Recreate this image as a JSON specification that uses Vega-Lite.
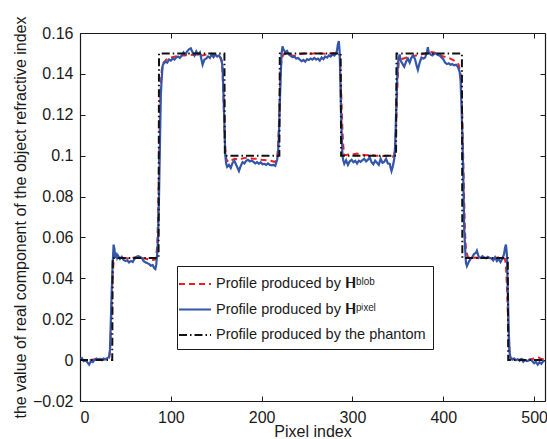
{
  "$schema": "https://vega.github.io/schema/vega-lite/v6.json",
  "width": 465,
  "height": 368,
  "autosize": "none",
  "padding": {"left": 80, "top": 33, "right": 2, "bottom": 38},
  "background": "white",
  "config": {
    "view": {"stroke": null},
    "font": "Liberation Sans",
    "axis": {"grid": false, "domainColor": "#1a1a1a", "tickColor": "#1a1a1a", "labelColor": "#1a1a1a", "titleColor": "#1a1a1a", "labelFontSize": 16, "titleFontSize": 16, "titleFontWeight": "normal", "domainWidth": 1.2, "tickWidth": 1},
    "legend": {"orient": "none", "legendX": 97, "legendY": 233, "strokeColor": "#1a1a1a", "fillColor": "white", "padding": 7, "symbolType": "M-1.6,0H1.6", "symbolSize": 400, "symbolStrokeWidth": 2, "labelOffset": 10, "labelFontSize": 14.5, "labelColor": "#1a1a1a", "labelLimit": 0, "rowPadding": 7.5, "title": null}
  },
  "data": {"values": [
    {"s":"phantom","x":0,"y":0},{"s":"phantom","x":35.5,"y":0},{"s":"phantom","x":36,"y":0.05},{"s":"phantom","x":86.5,"y":0.05},{"s":"phantom","x":87,"y":0.15},{"s":"phantom","x":159,"y":0.15},{"s":"phantom","x":159.5,"y":0.1},{"s":"phantom","x":219.5,"y":0.1},{"s":"phantom","x":220,"y":0.15},{"s":"phantom","x":287,"y":0.15},{"s":"phantom","x":287.5,"y":0.1},{"s":"phantom","x":348,"y":0.1},{"s":"phantom","x":348.5,"y":0.15},{"s":"phantom","x":420.5,"y":0.15},{"s":"phantom","x":421,"y":0.05},{"s":"phantom","x":471,"y":0.05},{"s":"phantom","x":471.5,"y":0},{"s":"phantom","x":511,"y":0},
    {"s":"blob","x":0,"y":0.0005},{"s":"blob","x":5,"y":-0.0003},{"s":"blob","x":10,"y":0.0},{"s":"blob","x":15,"y":0.0003},{"s":"blob","x":20,"y":0.0},{"s":"blob","x":25,"y":0.0004},{"s":"blob","x":30,"y":0.0003},{"s":"blob","x":32,"y":0.001},{"s":"blob","x":33,"y":0.004},{"s":"blob","x":34,"y":0.014},{"s":"blob","x":35,"y":0.029},{"s":"blob","x":36,"y":0.042},{"s":"blob","x":37,"y":0.048},{"s":"blob","x":38,"y":0.0505},{"s":"blob","x":40,"y":0.0502},{"s":"blob","x":45,"y":0.0498},{"s":"blob","x":50,"y":0.05},{"s":"blob","x":55,"y":0.0495},{"s":"blob","x":60,"y":0.0502},{"s":"blob","x":65,"y":0.0505},{"s":"blob","x":70,"y":0.0498},{"s":"blob","x":75,"y":0.0493},{"s":"blob","x":80,"y":0.049},{"s":"blob","x":83,"y":0.0492},{"s":"blob","x":84,"y":0.051},{"s":"blob","x":85,"y":0.056},{"s":"blob","x":86,"y":0.07},{"s":"blob","x":87,"y":0.095},{"s":"blob","x":88,"y":0.12},{"s":"blob","x":89,"y":0.135},{"s":"blob","x":90,"y":0.142},{"s":"blob","x":92,"y":0.1455},{"s":"blob","x":95,"y":0.147},{"s":"blob","x":100,"y":0.148},{"s":"blob","x":105,"y":0.1485},{"s":"blob","x":110,"y":0.149},{"s":"blob","x":115,"y":0.149},{"s":"blob","x":120,"y":0.1495},{"s":"blob","x":125,"y":0.1492},{"s":"blob","x":130,"y":0.1495},{"s":"blob","x":135,"y":0.149},{"s":"blob","x":140,"y":0.1495},{"s":"blob","x":145,"y":0.1498},{"s":"blob","x":150,"y":0.149},{"s":"blob","x":154,"y":0.1485},{"s":"blob","x":156,"y":0.146},{"s":"blob","x":157,"y":0.14},{"s":"blob","x":158,"y":0.128},{"s":"blob","x":159,"y":0.113},{"s":"blob","x":160,"y":0.103},{"s":"blob","x":161,"y":0.0985},{"s":"blob","x":163,"y":0.097},{"s":"blob","x":166,"y":0.0975},{"s":"blob","x":170,"y":0.0985},{"s":"blob","x":175,"y":0.098},{"s":"blob","x":180,"y":0.0988},{"s":"blob","x":185,"y":0.099},{"s":"blob","x":190,"y":0.0985},{"s":"blob","x":195,"y":0.0985},{"s":"blob","x":200,"y":0.098},{"s":"blob","x":205,"y":0.0978},{"s":"blob","x":210,"y":0.0975},{"s":"blob","x":214,"y":0.097},{"s":"blob","x":216,"y":0.0975},{"s":"blob","x":217,"y":0.099},{"s":"blob","x":218,"y":0.104},{"s":"blob","x":219,"y":0.115},{"s":"blob","x":220,"y":0.13},{"s":"blob","x":221,"y":0.142},{"s":"blob","x":222,"y":0.1475},{"s":"blob","x":224,"y":0.1495},{"s":"blob","x":228,"y":0.15},{"s":"blob","x":232,"y":0.1492},{"s":"blob","x":236,"y":0.1488},{"s":"blob","x":240,"y":0.1495},{"s":"blob","x":245,"y":0.1498},{"s":"blob","x":250,"y":0.15},{"s":"blob","x":255,"y":0.1498},{"s":"blob","x":260,"y":0.1502},{"s":"blob","x":265,"y":0.15},{"s":"blob","x":270,"y":0.1498},{"s":"blob","x":275,"y":0.15},{"s":"blob","x":280,"y":0.1502},{"s":"blob","x":284,"y":0.1503},{"s":"blob","x":286,"y":0.149},{"s":"blob","x":287,"y":0.14},{"s":"blob","x":288,"y":0.125},{"s":"blob","x":289,"y":0.112},{"s":"blob","x":290,"y":0.104},{"s":"blob","x":291,"y":0.1005},{"s":"blob","x":293,"y":0.1002},{"s":"blob","x":296,"y":0.1008},{"s":"blob","x":300,"y":0.1005},{"s":"blob","x":305,"y":0.101},{"s":"blob","x":310,"y":0.1005},{"s":"blob","x":315,"y":0.1002},{"s":"blob","x":320,"y":0.1005},{"s":"blob","x":325,"y":0.1},{"s":"blob","x":330,"y":0.1},{"s":"blob","x":335,"y":0.0998},{"s":"blob","x":340,"y":0.1},{"s":"blob","x":344,"y":0.0995},{"s":"blob","x":346,"y":0.1},{"s":"blob","x":347,"y":0.104},{"s":"blob","x":348,"y":0.114},{"s":"blob","x":349,"y":0.128},{"s":"blob","x":350,"y":0.14},{"s":"blob","x":351,"y":0.1455},{"s":"blob","x":353,"y":0.147},{"s":"blob","x":356,"y":0.1475},{"s":"blob","x":360,"y":0.148},{"s":"blob","x":365,"y":0.1485},{"s":"blob","x":370,"y":0.149},{"s":"blob","x":375,"y":0.1495},{"s":"blob","x":380,"y":0.15},{"s":"blob","x":385,"y":0.1508},{"s":"blob","x":390,"y":0.1505},{"s":"blob","x":395,"y":0.1495},{"s":"blob","x":400,"y":0.1485},{"s":"blob","x":405,"y":0.148},{"s":"blob","x":410,"y":0.147},{"s":"blob","x":414,"y":0.146},{"s":"blob","x":417,"y":0.1445},{"s":"blob","x":419,"y":0.14},{"s":"blob","x":420,"y":0.132},{"s":"blob","x":421,"y":0.118},{"s":"blob","x":422,"y":0.098},{"s":"blob","x":423,"y":0.078},{"s":"blob","x":424,"y":0.062},{"s":"blob","x":425,"y":0.054},{"s":"blob","x":427,"y":0.0505},{"s":"blob","x":430,"y":0.05},{"s":"blob","x":435,"y":0.0502},{"s":"blob","x":440,"y":0.0498},{"s":"blob","x":445,"y":0.05},{"s":"blob","x":450,"y":0.0502},{"s":"blob","x":455,"y":0.0498},{"s":"blob","x":460,"y":0.0502},{"s":"blob","x":465,"y":0.05},{"s":"blob","x":468,"y":0.0495},{"s":"blob","x":469,"y":0.046},{"s":"blob","x":470,"y":0.037},{"s":"blob","x":471,"y":0.024},{"s":"blob","x":472,"y":0.011},{"s":"blob","x":473,"y":0.004},{"s":"blob","x":474,"y":0.001},{"s":"blob","x":478,"y":0.0004},{"s":"blob","x":482,"y":0.0},{"s":"blob","x":486,"y":0.0005},{"s":"blob","x":490,"y":0.0},{"s":"blob","x":495,"y":0.0003},{"s":"blob","x":500,"y":0.0008},{"s":"blob","x":505,"y":0.0012},{"s":"blob","x":508,"y":0.0005},{"s":"blob","x":511,"y":0.0004},
    {"s":"pixel","x":0,"y":0.0005},{"s":"pixel","x":2,"y":0.001},{"s":"pixel","x":4,"y":-0.0005},{"s":"pixel","x":6,"y":0.0},{"s":"pixel","x":8,"y":-0.001},{"s":"pixel","x":10,"y":-0.0022},{"s":"pixel","x":12,"y":-0.0005},{"s":"pixel","x":14,"y":-0.001},{"s":"pixel","x":16,"y":0.0002},{"s":"pixel","x":18,"y":0.0008},{"s":"pixel","x":20,"y":0.0003},{"s":"pixel","x":22,"y":0.0006},{"s":"pixel","x":24,"y":0.0},{"s":"pixel","x":26,"y":0.0008},{"s":"pixel","x":28,"y":0.0004},{"s":"pixel","x":30,"y":0.001},{"s":"pixel","x":32,"y":0.0015},{"s":"pixel","x":33,"y":0.005},{"s":"pixel","x":34,"y":0.02},{"s":"pixel","x":35,"y":0.035},{"s":"pixel","x":36,"y":0.047},{"s":"pixel","x":37,"y":0.0565},{"s":"pixel","x":38,"y":0.054},{"s":"pixel","x":39,"y":0.05},{"s":"pixel","x":40,"y":0.0525},{"s":"pixel","x":41,"y":0.05},{"s":"pixel","x":42,"y":0.051},{"s":"pixel","x":44,"y":0.0495},{"s":"pixel","x":46,"y":0.0505},{"s":"pixel","x":48,"y":0.049},{"s":"pixel","x":50,"y":0.0485},{"s":"pixel","x":52,"y":0.0488},{"s":"pixel","x":54,"y":0.0478},{"s":"pixel","x":56,"y":0.0485},{"s":"pixel","x":58,"y":0.048},{"s":"pixel","x":60,"y":0.0495},{"s":"pixel","x":62,"y":0.0505},{"s":"pixel","x":64,"y":0.0508},{"s":"pixel","x":66,"y":0.0505},{"s":"pixel","x":68,"y":0.05},{"s":"pixel","x":70,"y":0.0485},{"s":"pixel","x":72,"y":0.0478},{"s":"pixel","x":74,"y":0.0475},{"s":"pixel","x":76,"y":0.047},{"s":"pixel","x":78,"y":0.0462},{"s":"pixel","x":80,"y":0.0465},{"s":"pixel","x":82,"y":0.0448},{"s":"pixel","x":83,"y":0.0445},{"s":"pixel","x":84,"y":0.0468},{"s":"pixel","x":85,"y":0.052},{"s":"pixel","x":86,"y":0.06},{"s":"pixel","x":87,"y":0.08},{"s":"pixel","x":88,"y":0.105},{"s":"pixel","x":89,"y":0.13},{"s":"pixel","x":90,"y":0.138},{"s":"pixel","x":91,"y":0.144},{"s":"pixel","x":92,"y":0.145},{"s":"pixel","x":94,"y":0.146},{"s":"pixel","x":96,"y":0.1455},{"s":"pixel","x":98,"y":0.147},{"s":"pixel","x":100,"y":0.1465},{"s":"pixel","x":102,"y":0.1475},{"s":"pixel","x":104,"y":0.147},{"s":"pixel","x":106,"y":0.148},{"s":"pixel","x":108,"y":0.1485},{"s":"pixel","x":110,"y":0.1478},{"s":"pixel","x":112,"y":0.149},{"s":"pixel","x":114,"y":0.1505},{"s":"pixel","x":116,"y":0.1495},{"s":"pixel","x":118,"y":0.151},{"s":"pixel","x":120,"y":0.152},{"s":"pixel","x":122,"y":0.1525},{"s":"pixel","x":124,"y":0.1505},{"s":"pixel","x":126,"y":0.149},{"s":"pixel","x":128,"y":0.151},{"s":"pixel","x":130,"y":0.1495},{"s":"pixel","x":132,"y":0.1505},{"s":"pixel","x":134,"y":0.1465},{"s":"pixel","x":135,"y":0.1445},{"s":"pixel","x":137,"y":0.147},{"s":"pixel","x":139,"y":0.1475},{"s":"pixel","x":141,"y":0.1485},{"s":"pixel","x":143,"y":0.1478},{"s":"pixel","x":145,"y":0.1495},{"s":"pixel","x":147,"y":0.1482},{"s":"pixel","x":149,"y":0.1495},{"s":"pixel","x":151,"y":0.1485},{"s":"pixel","x":153,"y":0.149},{"s":"pixel","x":155,"y":0.1478},{"s":"pixel","x":156,"y":0.1465},{"s":"pixel","x":157,"y":0.143},{"s":"pixel","x":158,"y":0.13},{"s":"pixel","x":159,"y":0.115},{"s":"pixel","x":160,"y":0.1},{"s":"pixel","x":161,"y":0.096},{"s":"pixel","x":162,"y":0.0945},{"s":"pixel","x":164,"y":0.0955},{"s":"pixel","x":166,"y":0.094},{"s":"pixel","x":168,"y":0.0965},{"s":"pixel","x":170,"y":0.0975},{"s":"pixel","x":172,"y":0.0955},{"s":"pixel","x":174,"y":0.0935},{"s":"pixel","x":175,"y":0.0925},{"s":"pixel","x":177,"y":0.095},{"s":"pixel","x":179,"y":0.0968},{"s":"pixel","x":181,"y":0.0962},{"s":"pixel","x":183,"y":0.0975},{"s":"pixel","x":185,"y":0.098},{"s":"pixel","x":187,"y":0.0972},{"s":"pixel","x":189,"y":0.0975},{"s":"pixel","x":191,"y":0.097},{"s":"pixel","x":193,"y":0.0962},{"s":"pixel","x":195,"y":0.0968},{"s":"pixel","x":197,"y":0.096},{"s":"pixel","x":199,"y":0.0968},{"s":"pixel","x":201,"y":0.0958},{"s":"pixel","x":203,"y":0.096},{"s":"pixel","x":205,"y":0.0955},{"s":"pixel","x":207,"y":0.0962},{"s":"pixel","x":209,"y":0.0955},{"s":"pixel","x":211,"y":0.0953},{"s":"pixel","x":213,"y":0.0955},{"s":"pixel","x":215,"y":0.095},{"s":"pixel","x":216,"y":0.0965},{"s":"pixel","x":217,"y":0.098},{"s":"pixel","x":218,"y":0.1005},{"s":"pixel","x":219,"y":0.11},{"s":"pixel","x":220,"y":0.125},{"s":"pixel","x":221,"y":0.14},{"s":"pixel","x":222,"y":0.15},{"s":"pixel","x":223,"y":0.1535},{"s":"pixel","x":224,"y":0.152},{"s":"pixel","x":226,"y":0.1505},{"s":"pixel","x":228,"y":0.1512},{"s":"pixel","x":230,"y":0.1495},{"s":"pixel","x":232,"y":0.1488},{"s":"pixel","x":234,"y":0.1482},{"s":"pixel","x":236,"y":0.1485},{"s":"pixel","x":238,"y":0.1475},{"s":"pixel","x":240,"y":0.1478},{"s":"pixel","x":242,"y":0.147},{"s":"pixel","x":244,"y":0.1462},{"s":"pixel","x":246,"y":0.1468},{"s":"pixel","x":248,"y":0.146},{"s":"pixel","x":250,"y":0.1472},{"s":"pixel","x":252,"y":0.1468},{"s":"pixel","x":254,"y":0.1475},{"s":"pixel","x":256,"y":0.147},{"s":"pixel","x":258,"y":0.1478},{"s":"pixel","x":260,"y":0.147},{"s":"pixel","x":262,"y":0.1475},{"s":"pixel","x":264,"y":0.1465},{"s":"pixel","x":266,"y":0.148},{"s":"pixel","x":268,"y":0.1472},{"s":"pixel","x":270,"y":0.1485},{"s":"pixel","x":272,"y":0.148},{"s":"pixel","x":274,"y":0.149},{"s":"pixel","x":276,"y":0.1485},{"s":"pixel","x":278,"y":0.1495},{"s":"pixel","x":280,"y":0.149},{"s":"pixel","x":282,"y":0.15},{"s":"pixel","x":283,"y":0.1515},{"s":"pixel","x":284,"y":0.1545},{"s":"pixel","x":285,"y":0.156},{"s":"pixel","x":286,"y":0.15},{"s":"pixel","x":287,"y":0.13},{"s":"pixel","x":288,"y":0.112},{"s":"pixel","x":289,"y":0.1},{"s":"pixel","x":290,"y":0.0975},{"s":"pixel","x":291,"y":0.096},{"s":"pixel","x":293,"y":0.0978},{"s":"pixel","x":295,"y":0.0955},{"s":"pixel","x":297,"y":0.0972},{"s":"pixel","x":299,"y":0.098},{"s":"pixel","x":301,"y":0.0968},{"s":"pixel","x":303,"y":0.0975},{"s":"pixel","x":305,"y":0.0962},{"s":"pixel","x":307,"y":0.0975},{"s":"pixel","x":309,"y":0.097},{"s":"pixel","x":311,"y":0.0978},{"s":"pixel","x":313,"y":0.0985},{"s":"pixel","x":315,"y":0.0972},{"s":"pixel","x":317,"y":0.098},{"s":"pixel","x":319,"y":0.0992},{"s":"pixel","x":321,"y":0.0968},{"s":"pixel","x":323,"y":0.0958},{"s":"pixel","x":325,"y":0.0975},{"s":"pixel","x":327,"y":0.0965},{"s":"pixel","x":329,"y":0.0955},{"s":"pixel","x":331,"y":0.0985},{"s":"pixel","x":333,"y":0.0965},{"s":"pixel","x":335,"y":0.097},{"s":"pixel","x":337,"y":0.0985},{"s":"pixel","x":339,"y":0.0962},{"s":"pixel","x":341,"y":0.096},{"s":"pixel","x":343,"y":0.0925},{"s":"pixel","x":344,"y":0.094},{"s":"pixel","x":345,"y":0.096},{"s":"pixel","x":346,"y":0.0985},{"s":"pixel","x":347,"y":0.105},{"s":"pixel","x":348,"y":0.12},{"s":"pixel","x":349,"y":0.135},{"s":"pixel","x":350,"y":0.145},{"s":"pixel","x":351,"y":0.148},{"s":"pixel","x":352,"y":0.1495},{"s":"pixel","x":353,"y":0.1465},{"s":"pixel","x":355,"y":0.145},{"s":"pixel","x":357,"y":0.1435},{"s":"pixel","x":359,"y":0.146},{"s":"pixel","x":361,"y":0.1475},{"s":"pixel","x":363,"y":0.1455},{"s":"pixel","x":365,"y":0.148},{"s":"pixel","x":367,"y":0.149},{"s":"pixel","x":369,"y":0.147},{"s":"pixel","x":371,"y":0.1435},{"s":"pixel","x":372,"y":0.142},{"s":"pixel","x":374,"y":0.1455},{"s":"pixel","x":376,"y":0.148},{"s":"pixel","x":378,"y":0.1475},{"s":"pixel","x":380,"y":0.148},{"s":"pixel","x":382,"y":0.1505},{"s":"pixel","x":383,"y":0.153},{"s":"pixel","x":384,"y":0.1505},{"s":"pixel","x":386,"y":0.1495},{"s":"pixel","x":388,"y":0.149},{"s":"pixel","x":390,"y":0.1498},{"s":"pixel","x":392,"y":0.15},{"s":"pixel","x":394,"y":0.1492},{"s":"pixel","x":396,"y":0.149},{"s":"pixel","x":398,"y":0.148},{"s":"pixel","x":400,"y":0.1472},{"s":"pixel","x":402,"y":0.1455},{"s":"pixel","x":404,"y":0.1448},{"s":"pixel","x":406,"y":0.1452},{"s":"pixel","x":408,"y":0.1445},{"s":"pixel","x":410,"y":0.1448},{"s":"pixel","x":412,"y":0.1442},{"s":"pixel","x":414,"y":0.1445},{"s":"pixel","x":416,"y":0.1435},{"s":"pixel","x":418,"y":0.141},{"s":"pixel","x":419,"y":0.137},{"s":"pixel","x":420,"y":0.125},{"s":"pixel","x":421,"y":0.11},{"s":"pixel","x":422,"y":0.09},{"s":"pixel","x":423,"y":0.065},{"s":"pixel","x":424,"y":0.055},{"s":"pixel","x":425,"y":0.0475},{"s":"pixel","x":426,"y":0.046},{"s":"pixel","x":428,"y":0.048},{"s":"pixel","x":430,"y":0.0495},{"s":"pixel","x":432,"y":0.0505},{"s":"pixel","x":434,"y":0.052},{"s":"pixel","x":436,"y":0.0525},{"s":"pixel","x":437,"y":0.0535},{"s":"pixel","x":439,"y":0.0505},{"s":"pixel","x":441,"y":0.05},{"s":"pixel","x":443,"y":0.0508},{"s":"pixel","x":445,"y":0.0502},{"s":"pixel","x":447,"y":0.0498},{"s":"pixel","x":449,"y":0.0505},{"s":"pixel","x":451,"y":0.05},{"s":"pixel","x":453,"y":0.0497},{"s":"pixel","x":455,"y":0.0488},{"s":"pixel","x":457,"y":0.0503},{"s":"pixel","x":459,"y":0.0485},{"s":"pixel","x":461,"y":0.0495},{"s":"pixel","x":463,"y":0.048},{"s":"pixel","x":465,"y":0.0495},{"s":"pixel","x":467,"y":0.052},{"s":"pixel","x":468,"y":0.055},{"s":"pixel","x":469,"y":0.0565},{"s":"pixel","x":470,"y":0.052},{"s":"pixel","x":471,"y":0.035},{"s":"pixel","x":472,"y":0.015},{"s":"pixel","x":473,"y":0.004},{"s":"pixel","x":474,"y":0.001},{"s":"pixel","x":476,"y":0.0002},{"s":"pixel","x":478,"y":0.0008},{"s":"pixel","x":480,"y":0.0},{"s":"pixel","x":482,"y":0.0004},{"s":"pixel","x":484,"y":-0.0003},{"s":"pixel","x":486,"y":0.0005},{"s":"pixel","x":488,"y":-0.0008},{"s":"pixel","x":490,"y":0.0},{"s":"pixel","x":492,"y":-0.0005},{"s":"pixel","x":494,"y":-0.0002},{"s":"pixel","x":496,"y":0.0003},{"s":"pixel","x":498,"y":-0.0005},{"s":"pixel","x":500,"y":-0.0015},{"s":"pixel","x":502,"y":-0.0008},{"s":"pixel","x":504,"y":-0.0022},{"s":"pixel","x":506,"y":-0.001},{"s":"pixel","x":508,"y":-0.0018},{"s":"pixel","x":510,"y":-0.0005},{"s":"pixel","x":511,"y":-0.001}
  ]},
  "layer": [
    {
      "transform": [{"filter": "datum.s == 'blob'"}],
      "mark": {"type": "line", "strokeWidth": 2, "clip": true},
      "encoding": {
        "x": {"field": "x", "type": "quantitative", "scale": {"domain": [0, 512], "nice": false, "zero": false}, "axis": {"orient": "bottom", "values": [0, 100, 200, 300, 400, 500], "tickSize": -5, "labelPadding": 13, "title": "Pixel index", "titlePadding": -2}},
        "y": {"field": "y", "type": "quantitative", "scale": {"domain": [-0.02, 0.16], "nice": false, "zero": false}, "axis": {"orient": "left", "values": [-0.02, 0, 0.02, 0.04, 0.06, 0.08, 0.1, 0.12, 0.14, 0.16], "format": ".2~f", "tickSize": -5, "labelPadding": 12, "title": "the value of real component of the object refractive index", "titlePadding": 4}},
        "color": {"field": "s", "type": "nominal", "scale": {"domain": ["blob", "pixel", "phantom"], "range": ["#f02020", "#3355aa", "#111111"]}, "legend": {"labelExpr": "datum.label == 'blob' ? 'Profile produced by  𝐇ᵇˡᵒᵇ' : datum.label == 'pixel' ? 'Profile produced by  𝐇ᵖⁱˣᵉˡ' : 'Profile produced by the phantom'"}},
        "strokeDash": {"field": "s", "type": "nominal", "scale": {"domain": ["blob", "pixel", "phantom"], "range": [[6, 4], [1, 0], [8, 3, 1.5, 3]]}, "legend": {"labelExpr": "datum.label == 'blob' ? 'Profile produced by  𝐇ᵇˡᵒᵇ' : datum.label == 'pixel' ? 'Profile produced by  𝐇ᵖⁱˣᵉˡ' : 'Profile produced by the phantom'"}}
      }
    },
    {
      "transform": [{"filter": "datum.s == 'pixel'"}],
      "mark": {"type": "line", "strokeWidth": 2.2, "clip": true},
      "encoding": {
        "x": {"field": "x", "type": "quantitative", "axis": null},
        "y": {"field": "y", "type": "quantitative", "axis": null},
        "color": {"field": "s", "type": "nominal"},
        "strokeDash": {"field": "s", "type": "nominal"}
      }
    },
    {
      "transform": [{"filter": "datum.s == 'phantom'"}],
      "mark": {"type": "line", "strokeWidth": 2, "clip": true},
      "encoding": {
        "x": {"field": "x", "type": "quantitative", "axis": {"orient": "top", "values": [0, 100, 200, 300, 400, 500], "tickSize": -5, "labels": false, "title": null}},
        "y": {"field": "y", "type": "quantitative", "axis": {"orient": "right", "values": [-0.02, 0, 0.02, 0.04, 0.06, 0.08, 0.1, 0.12, 0.14, 0.16], "tickSize": -5, "labels": false, "title": null}},
        "color": {"field": "s", "type": "nominal"},
        "strokeDash": {"field": "s", "type": "nominal"}
      }
    }
  ],
  "resolve": {"axis": {"x": "independent", "y": "independent"}}
}
